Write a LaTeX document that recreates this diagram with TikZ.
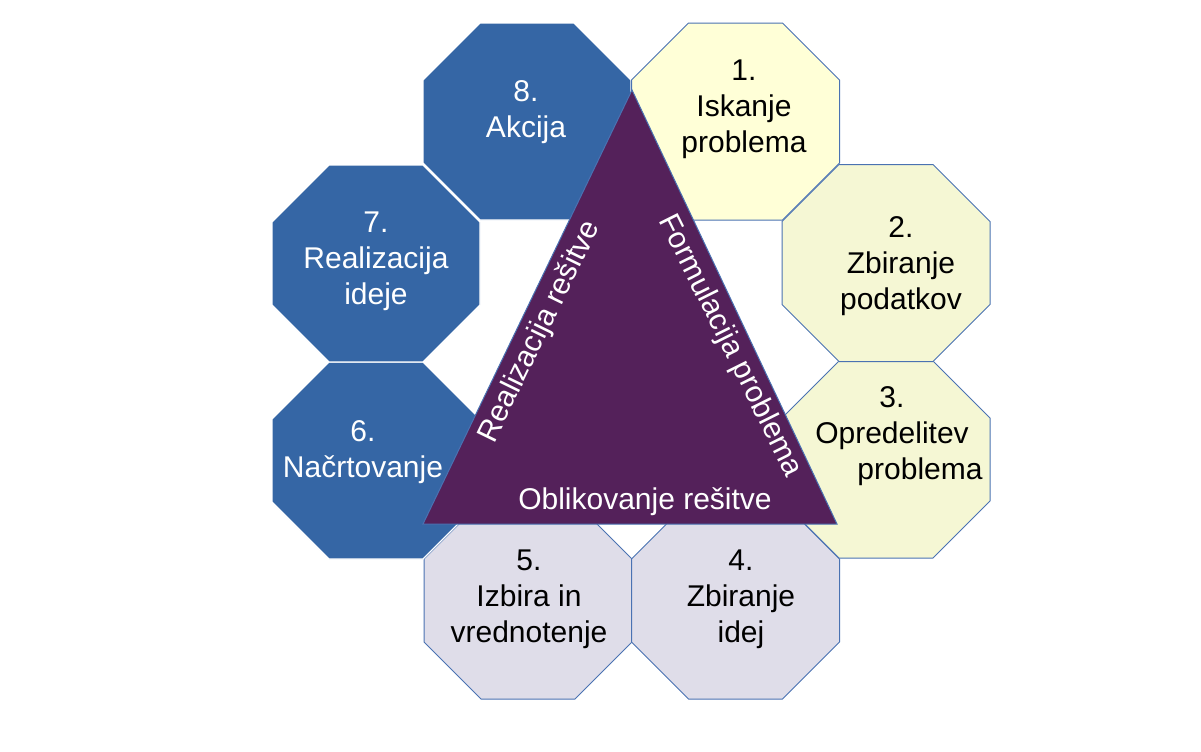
\documentclass[tikz,border=0pt]{standalone}
\usepackage{fontspec}
\setmainfont{Liberation Sans}
\definecolor{octblue}{HTML}{3566A5}
\definecolor{octline}{HTML}{4A72B2}
\definecolor{paleyellow}{HTML}{FFFFD7}
\definecolor{palegreen}{HTML}{F5F7D4}
\definecolor{palegrey}{HTML}{DFDDE9}
\definecolor{tripurple}{HTML}{54215A}
\tikzset{
  octa/.pic={\path[pic actions] (-47,-98.5) -- (47,-98.5) -- (104,-41.5) -- (104,41.5)
    -- (47,98.5) -- (-47,98.5) -- (-104,41.5) -- (-104,-41.5) -- cycle;}
}
\begin{document}
\begin{tikzpicture}[x=0.5pt,y=-0.5pt,
  blueoct/.style={fill=octblue,draw=white,line width=0.6pt},
  paleoct/.style={draw=octline,line width=0.5pt},
  octtext/.style={align=center,inner sep=0pt,font=\fontsize{15}{18}\selectfont},
  tritext/.style={inner sep=0pt,text=white,font=\fontsize{15}{18}\selectfont}]

\useasboundingbox (0,0) rectangle (1201,751);

% Draw the eight octagons
\pic[paleoct,fill=palegrey] at (528,600.5) {octa};
\pic[paleoct,fill=palegrey] at (735.5,600.5) {octa};
\pic[blueoct] at (376,460.5) {octa};
\pic[blueoct] at (376,263.5) {octa};
\pic[blueoct] at (527,121.5) {octa};
\pic[paleoct,fill=palegreen] at (886,459.5) {octa};
\pic[paleoct,fill=palegreen] at (886,263) {octa};
\pic[paleoct,fill=paleyellow] at (735.5,121.5) {octa};

% Label the steps
\node[octtext] (step1) at (744,109) {1.\\Iskanje\\problema};
\node[octtext] (step2) at (901,266) {2.\\Zbiranje\\podatkov};
\node[octtext] (step3) at (892,436) {3.\\Opredelitev\\\hspace*{28pt}problema};
\node[octtext] (step4) at (741,599) {4.\\Zbiranje\\idej};
\node[octtext] (step5) at (529,599) {5.\\Izbira in\\vrednotenje};
\node[octtext,text=white] (step6) at (363,452) {6.\\Načrtovanje};
\node[octtext,text=white] (step7) at (376,261) {7.\\Realizacija\\ideje};
\node[octtext,text=white] (step8) at (526,112) {8.\\Akcija};

% Draw the triangle
\coordinate (apex) at (632,90);
\coordinate (baseR) at (837,524);
\coordinate (baseL) at (423,524);
\draw[fill=tripurple,draw=octline,line width=0.5pt] (apex) -- (baseR) -- (baseL) -- cycle;

% Label the sides of the triangle
\node[tritext,rotate=64] (left) at (540,332) {Realizacija rešitve};
\node[tritext,rotate=-63.5] (right) at (730,346) {Formulacija problema};
\node[tritext] (bottom) at (645,502) {Oblikovanje rešitve};

\end{tikzpicture}
\end{document}
